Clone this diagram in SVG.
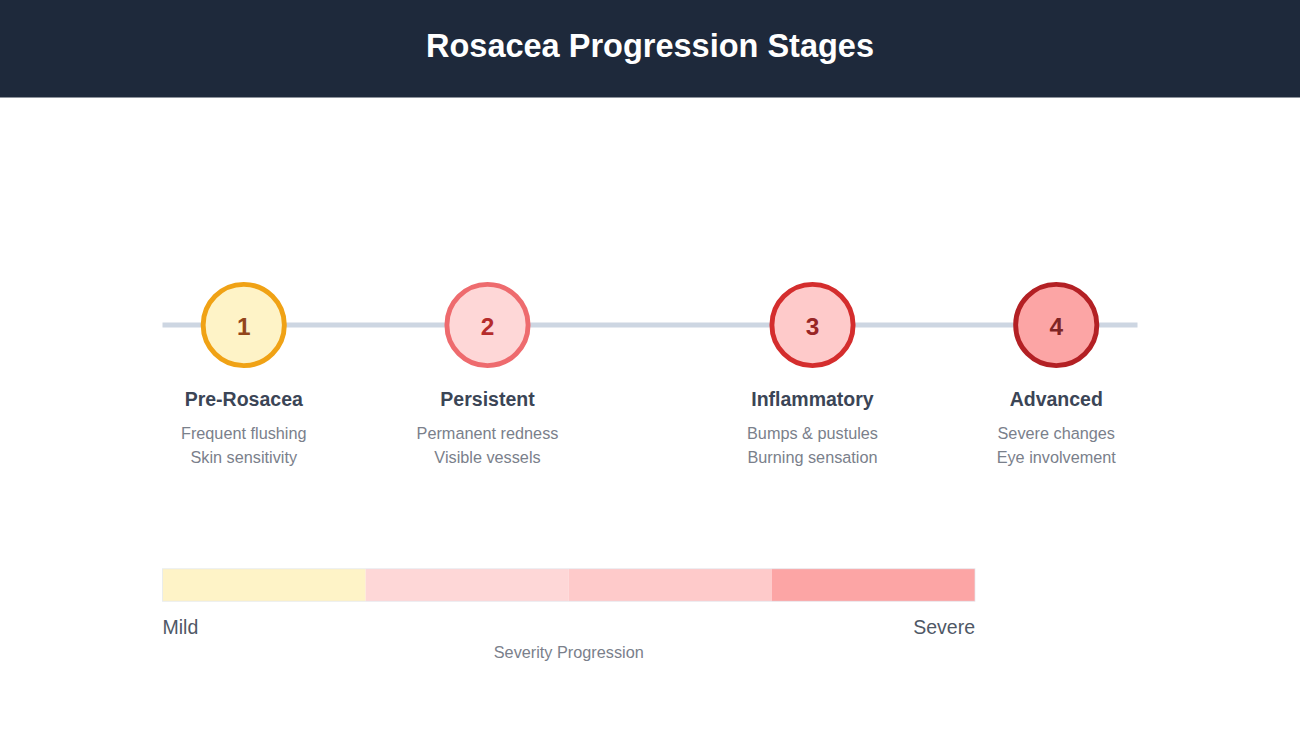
<svg xmlns="http://www.w3.org/2000/svg" width="1300" height="731" viewBox="0 0 1300 731">
<style>
text{font-family:"Liberation Sans",Arial,sans-serif;text-anchor:middle}
.title{font-size:32.5px;font-weight:700;fill:#fff}
.num{font-size:24.4px;font-weight:700}
.name{font-size:19.5px;font-weight:700;fill:#3b4556}
.desc{font-size:16.25px;fill:#7a808b}
.end{font-size:19.5px;fill:#4f5866}
.node{stroke-width:4.9px}
</style>
<rect width="1300" height="731" fill="#fff"/>
<g id="header"><rect width="1300" height="97.5" fill="#1e293b"/><text class="title" x="650" y="57">Rosacea Progression Stages</text></g>
<g id="connectors"><line x1="162.5" y1="325" x2="1137.5" y2="325" stroke="#cdd6e2" stroke-width="4.9"/></g>
<g id="stage1"><circle class="node" cx="243.75" cy="325" r="40.6" fill="#fef3c7" stroke="#f0a215"/><text class="num" x="243.75" y="335" fill="#92451a">1</text><text class="name" x="243.75" y="406">Pre-Rosacea</text><text class="desc" x="243.75" y="439">Frequent flushing</text><text class="desc" x="243.75" y="463">Skin sensitivity</text></g>
<g id="stage2"><circle class="node" cx="487.5" cy="325" r="40.6" fill="#fed7d7" stroke="#ee6b6e"/><text class="num" x="487.5" y="335" fill="#b52c2c">2</text><text class="name" x="487.5" y="406">Persistent</text><text class="desc" x="487.5" y="439">Permanent redness</text><text class="desc" x="487.5" y="463">Visible vessels</text></g>
<g id="stage3"><circle class="node" cx="812.5" cy="325" r="40.6" fill="#fecaca" stroke="#d42d2d"/><text class="num" x="812.5" y="335" fill="#982525">3</text><text class="name" x="812.5" y="406">Inflammatory</text><text class="desc" x="812.5" y="439">Bumps &amp; pustules</text><text class="desc" x="812.5" y="463">Burning sensation</text></g>
<g id="stage4"><circle class="node" cx="1056.25" cy="325" r="40.6" fill="#fca5a5" stroke="#b32024"/><text class="num" x="1056.25" y="335" fill="#7f2525">4</text><text class="name" x="1056.25" y="406">Advanced</text><text class="desc" x="1056.25" y="439">Severe changes</text><text class="desc" x="1056.25" y="463">Eye involvement</text></g>
<g id="severity-bar">
<rect x="162.5" y="568.75" width="203.1" height="32.5" fill="#fef3c7"/>
<rect x="365.6" y="568.75" width="203.15" height="32.5" fill="#fed7d7"/>
<rect x="568.75" y="568.75" width="203.15" height="32.5" fill="#fecaca"/>
<rect x="771.9" y="568.75" width="203.1" height="32.5" fill="#fca5a5"/>
<rect x="162.5" y="568.75" width="812.5" height="32.5" fill="none" stroke="#e2e8f0" stroke-width="0.8" stroke-opacity="0.9"/>
<text class="end" x="162.5" y="633.5" style="text-anchor:start">Mild</text>
<text class="end" x="975" y="633.5" style="text-anchor:end">Severe</text>
<text class="desc" x="568.75" y="658">Severity Progression</text>
</g>
</svg>
